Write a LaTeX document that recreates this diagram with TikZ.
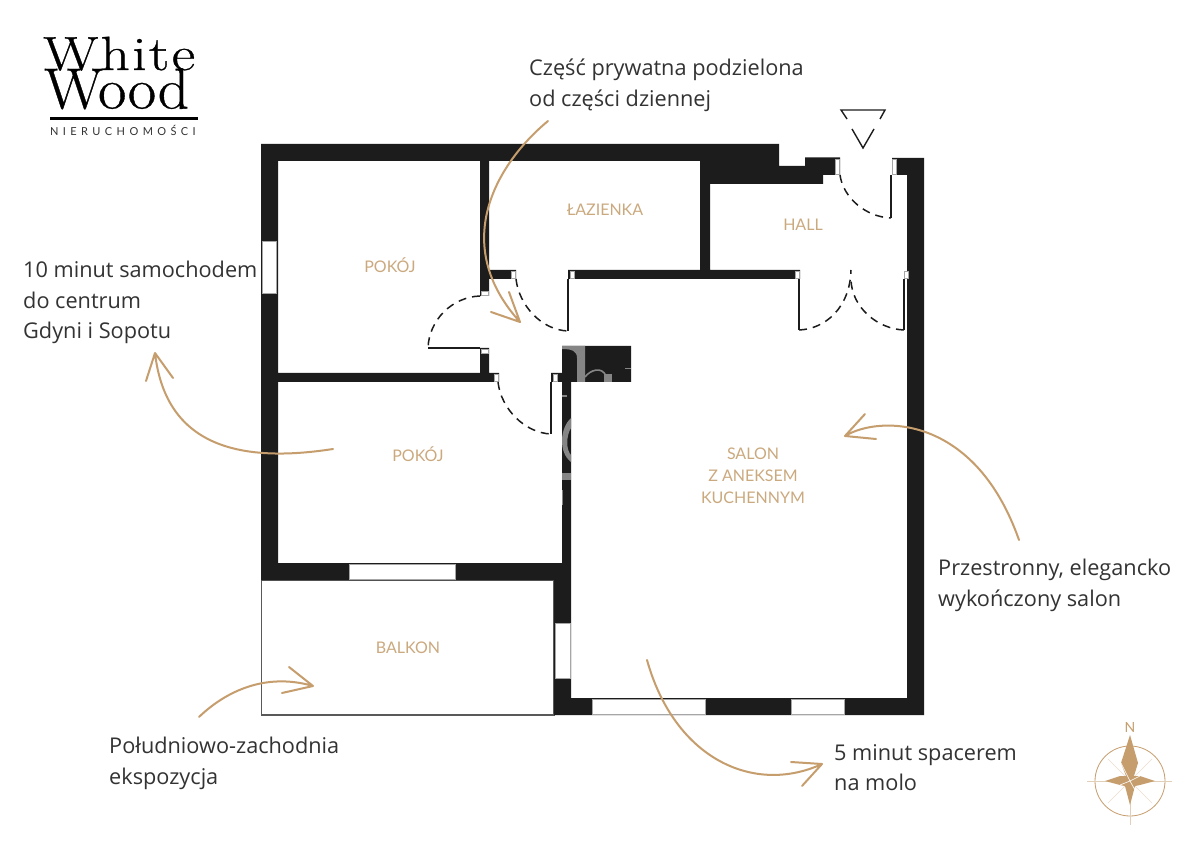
\documentclass[tikz,border=0pt]{standalone}
\usepackage{fontspec}
\setmainfont{Open Sans}
\newfontfamily\roomfont{Lato}
\newfontfamily\logoserif[FakeBold=0.6]{Latin Modern Roman}
\newfontfamily\logoserifw[FakeBold=0.6,LetterSpace=4]{Latin Modern Roman}
\newfontfamily\logosub[LetterSpace=40]{Lato}
\definecolor{wallc}{HTML}{1C1C1C}
\definecolor{tan}{HTML}{C69E6E}
\definecolor{roomc}{HTML}{CBA97E}
\definecolor{txt}{HTML}{333333}
\definecolor{ghost}{HTML}{858585}
\tikzset{
  wall/.style={fill=wallc,draw=none},
  winbox/.style={fill=white,draw=gray!70,line width=0.7pt},
  jamb/.style={fill=white,draw=gray!70,line width=0.6pt},
  leaf/.style={draw=wallc,line width=1.4pt},
  swing/.style={draw=wallc,line width=1.5pt,dash pattern=on 8pt off 6pt},
  curvearrow/.style={draw=tan,line width=2pt,line cap=round,line join=round},
  roomlabel/.style={text=roomc,font=\roomfont\fontsize{16}{22}\selectfont,align=center,anchor=center,inner sep=0pt},
  note/.style={text=txt,font=\fontsize{21.7}{30.5}\selectfont,align=left,anchor=north west,inner sep=0pt},
}
\begin{document}
\begin{tikzpicture}[x=1pt,y=-1pt]
\useasboundingbox (0,0) rectangle (1200,850);
\fill[white] (0,0) rectangle (1200,850);
% balcony
\draw[draw=gray!70!black,line width=1.5pt] (261.5,580) rectangle (554,715);
% walls
\fill[wall] (261,144) -- (779,144) -- (779,166) -- (805,166) -- (805,157.5) -- (840,157.5) -- (840,175) -- (823,175) -- (823,184) -- (710,184) -- (710,270) -- (800,270) -- (800,279) -- (568,279) -- (568,270) -- (700,270) -- (700,161) -- (489,161) -- (489,270) -- (516,270) -- (516,279) -- (489,279) -- (489,296) -- (480,296) -- (480,161) -- (278,161) -- (278,373) -- (480,373) -- (480,348) -- (489,348) -- (489,373) -- (499,373) -- (499,382) -- (278,382) -- (278,563) -- (562,563) -- (562,382) -- (551,382) -- (551,373) -- (562,373) -- (562,346) -- (631,346) -- (631,382) -- (571,382) -- (571,698) -- (907,698) -- (907,175) -- (892,175) -- (892,158) -- (924,158) -- (924,715) -- (554,715) -- (554,580) -- (261,580) -- cycle;
% watermark ghost on the walls
\begin{scope}
\clip (562,346) rectangle (631,382) (562,382) rectangle (571,560);
\fill[ghost] (562,346) -- (585,346) -- (585,382) -- (577,382) -- (577,358) .. controls (577,351) and (572,349) .. (562,349) -- cycle;
\draw[ghost,line width=1.6pt] (585,377) .. controls (590,370) and (602,366) .. (606,376);
\fill[ghost] (604,374) rectangle (612,382);
\fill[ghost] (625,368) rectangle (631,369.5);
\fill[ghost] (562,395) rectangle (567,397);
\fill[ghost] (571,418) .. controls (560,428) and (558,452) .. (571,462) -- (571,455) .. controls (566,450) and (566,436) .. (571,428) -- cycle;
\fill[ghost] (562,473) rectangle (571,480);
\fill[ghost] (562,490) rectangle (563.2,505);
\end{scope}
% windows
\draw[winbox] (262,241) rectangle (276.5,293);
\draw[winbox] (349,564.5) rectangle (455,579);
\draw[winbox] (555.5,623) rectangle (570,678);
\draw[winbox] (592,699.5) rectangle (705,714.5);
\draw[winbox] (791,699.5) rectangle (844,714.5);
% door jambs
\draw[jamb] (835,159) rectangle (839,174);
\draw[jamb] (892.5,159) rectangle (896.5,174);
\draw[jamb] (511,271) rectangle (515,278);
\draw[jamb] (570,271) rectangle (574,278);
\draw[jamb] (795.5,271) rectangle (799.5,278);
\draw[jamb] (904,271) rectangle (908,278);
\draw[jamb] (481,291) rectangle (488,295);
\draw[jamb] (481,349) rectangle (488,353);
\draw[jamb] (494.5,374) rectangle (498.5,381);
\draw[jamb] (553,374) rectangle (557,381);
% door leaves
\draw[leaf] (891,175) -- (891,218);
\draw[leaf] (799,279) -- (799,330);
\draw[leaf] (904,279) -- (904,330);
\draw[leaf] (568,279) -- (568,331);
\draw[leaf] (480,348) -- (428,348);
\draw[leaf] (551,382) -- (551,434);
% door swings
\draw[swing] (840,175) .. controls (843,197) and (865,217) .. (891,218);
\draw[swing] (799,330) .. controls (825,329) and (850,308) .. (851,270);
\draw[swing] (904,330) .. controls (878,329) and (852,308) .. (851,280);
\draw[swing] (516,279) .. controls (519,305) and (541,330) .. (568,331);
\draw[swing] (480,296) .. controls (452,297) and (429,320) .. (428,348);
\draw[swing] (498,382) .. controls (501,409) and (525,433) .. (551,434);
% entrance mark
\draw[line width=1.4pt,draw=wallc] (847,119) -- (841,110) -- (885,110) -- (880,119);
\draw[line width=1.4pt,draw=wallc] (852,129) -- (863,148) -- (874,129);
% room labels
\node[roomlabel] (r1) at (390,265) {POKÓJ};
\node[roomlabel] (r2) at (605,210) {ŁAZIENKA};
\node[roomlabel] (r3) at (803,224.5) {HALL};
\node[roomlabel] (r4) at (418,454) {POKÓJ};
\node[roomlabel] (r5) at (753,476) {SALON\\Z ANEKSEM\\KUCHENNYM};
\node[roomlabel] (r6) at (408,648) {BALKON};
% notes
\node[note] (n1) at (529,59) {Część prywatna podzielona\\od części dziennej};
\node[note] (n2) at (23,261) {10 minut samochodem\\do centrum\\Gdyni i Sopotu};
\node[note] (n3) at (938,559) {Przestronny, elegancko\\wykończony salon};
\node[note] (n4) at (109,737) {Południowo-zachodnia\\ekspozycja};
\node[note] (n5) at (834,744) {5 minut spacerem\\na molo};
% arrows
\draw[curvearrow] (548,121) .. controls (495,165) and (450,245) .. (520,322) (509,292) -- (520,322) -- (491,312);
\draw[curvearrow] (1019,540) .. controls (975,415) and (880,415) .. (845,436) (865,414) -- (845,436) -- (876,439);
\draw[curvearrow] (333,449) .. controls (230,465) and (165,440) .. (155,353) (173,378) -- (155,353) -- (146,381);
\draw[curvearrow] (199,717) .. controls (225,692) and (265,672) .. (313,686) (289,667) -- (313,686) -- (282,693);
\draw[curvearrow] (647,660) .. controls (675,760) and (755,795) .. (822,764) (791,762) -- (822,764) -- (802,786);
% logo
\node[inner sep=0pt,anchor=base west,xscale=1.2,font=\logoserifw\fontsize{48}{48}\selectfont] (lg1) at (43,70) {White};
\node[inner sep=0pt,anchor=base west,xscale=1.06,font=\logoserif\fontsize{58}{58}\selectfont] (lg2) at (44,108.5) {Wood};
\fill[black] (50,117.5) rectangle (198,120.5);
\node[inner sep=0pt,anchor=base west,text=txt,font=\logosub\fontsize{11}{11}\selectfont] (lg3) at (50,136) {NIERUCHOMOŚCI};
% compass
\draw[tan,line width=0.8pt] (1130,781) circle (35);
\draw[tan!50,line width=0.6pt] (1087,781) -- (1172,781) (1130,795) -- (1130,825);
\draw[tan!35,line width=0.6pt] (1108,759) -- (1152,803) (1152,759) -- (1108,803);
\fill[tan] (1130,735) -- (1138,763) -- (1134,776) -- (1140,776) -- (1155,781) -- (1140,785) -- (1135,786) -- (1130,805) -- (1125,786) -- (1120,785) -- (1105,781) -- (1120,776) -- (1126,776) -- (1121,763) -- cycle;
\draw[white,line width=0.6pt] (1130,781) -- (1121,763) (1130,781) -- (1120,785) (1130,781) -- (1140,776) (1130,781) -- (1135,790);
\node[inner sep=0pt,text=tan,font=\roomfont\fontsize{14}{14}\selectfont] (cn) at (1130,727) {N};
\end{tikzpicture}
\end{document}
